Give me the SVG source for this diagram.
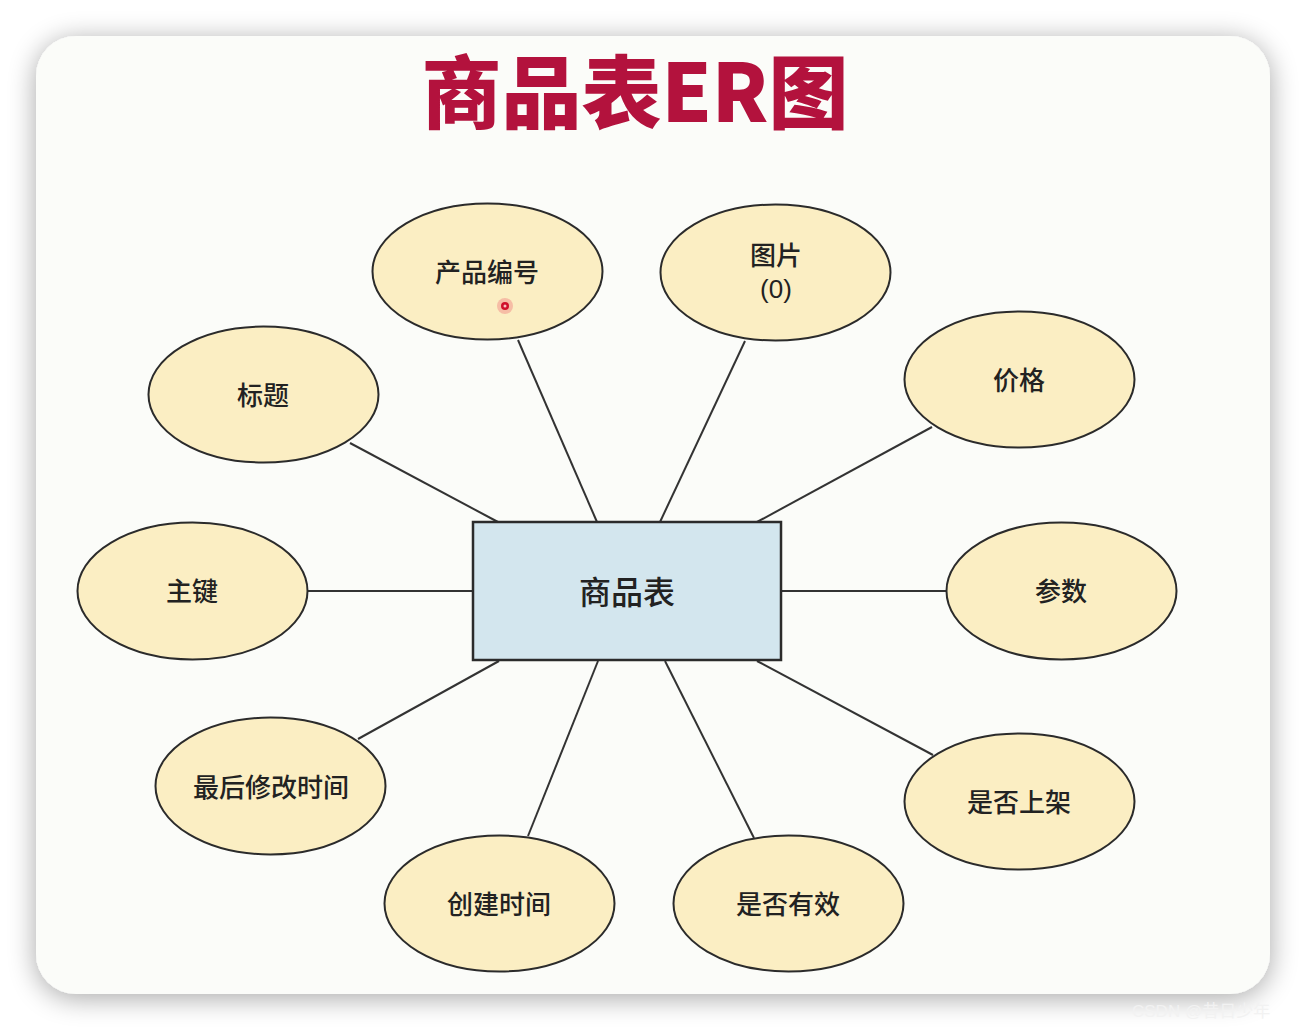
<svg xmlns="http://www.w3.org/2000/svg" width="1306" height="1030" viewBox="0 0 1306 1030">
<defs>
<filter id="sh" x="-10%" y="-10%" width="120%" height="120%">
<feGaussianBlur in="SourceAlpha" stdDeviation="14"/>
<feOffset dx="0" dy="4"/>
<feComponentTransfer><feFuncA type="linear" slope="0.35"/></feComponentTransfer>
<feMerge><feMergeNode/><feMergeNode in="SourceGraphic"/></feMerge>
</filter>
<style>
.attr ellipse{fill:#fbeec3;stroke:#2b2b2b;stroke-width:2}
.lbl{font-family:"Noto Sans CJK SC","Liberation Sans",sans-serif;font-size:26px;fill:#222;text-anchor:middle;dominant-baseline:central;font-weight:500}
#connectors line{stroke:#333;stroke-width:2}
</style>
</defs>
<rect width="1306" height="1030" fill="#ffffff"/>
<rect x="36" y="36" width="1234" height="958" rx="40" fill="#fbfcf9" filter="url(#sh)"/>
<text x="635" y="122" font-family="Noto Sans CJK SC, Liberation Sans, sans-serif" font-size="80" font-weight="900" fill="#b3123d" text-anchor="middle">商品表ER图</text>
<g id="connectors">
<line x1="350" y1="443" x2="498" y2="522"/>
<line x1="518" y1="340" x2="597" y2="522"/>
<line x1="745" y1="341" x2="660" y2="522"/>
<line x1="932" y1="427" x2="757" y2="522"/>
<line x1="308" y1="591" x2="473" y2="591"/>
<line x1="781" y1="591" x2="946" y2="591"/>
<line x1="358" y1="739" x2="499" y2="661"/>
<line x1="528" y1="836" x2="598" y2="661"/>
<line x1="754" y1="838" x2="665" y2="661"/>
<line x1="933" y1="755" x2="757" y2="661"/>
</g>
<g id="entity">
<rect x="473" y="522" width="308" height="138" fill="#d3e6ee" stroke="#2b2b2b" stroke-width="2.5"/>
<text class="lbl" x="627" y="590" style="font-size:32px">商品表</text>
</g>
<g id="n-bianhao" class="attr"><ellipse cx="487.5" cy="271.5" rx="115" ry="68"/><text class="lbl" x="487" y="270">产品编号</text></g>
<g id="n-tupian" class="attr"><ellipse cx="775.5" cy="272.5" rx="115" ry="68"/><text class="lbl" x="776" y="253">图片</text><text class="lbl" x="776" y="289" style="font-family:'Liberation Sans',sans-serif;font-weight:400">(0)</text></g>
<g id="n-biaoti" class="attr"><ellipse cx="263.5" cy="394.5" rx="115" ry="68"/><text class="lbl" x="263" y="393">标题</text></g>
<g id="n-jiage" class="attr"><ellipse cx="1019.5" cy="379.5" rx="115" ry="68"/><text class="lbl" x="1019" y="378">价格</text></g>
<g id="n-zhujian" class="attr"><ellipse cx="192.5" cy="591" rx="115" ry="68.5"/><text class="lbl" x="192" y="589">主键</text></g>
<g id="n-canshu" class="attr"><ellipse cx="1061.5" cy="591" rx="115" ry="68.5"/><text class="lbl" x="1061" y="589">参数</text></g>
<g id="n-xiugai" class="attr"><ellipse cx="270.5" cy="786" rx="115" ry="68.5"/><text class="lbl" x="271" y="785">最后修改时间</text></g>
<g id="n-shangjia" class="attr"><ellipse cx="1019.5" cy="801.5" rx="115" ry="68"/><text class="lbl" x="1019" y="800">是否上架</text></g>
<g id="n-chuangjian" class="attr"><ellipse cx="499.5" cy="903.5" rx="115" ry="68"/><text class="lbl" x="499" y="902">创建时间</text></g>
<g id="n-youxiao" class="attr"><ellipse cx="788.5" cy="903.5" rx="115" ry="68"/><text class="lbl" x="788" y="902">是否有效</text></g>
<circle cx="505" cy="306" r="8" fill="#f08080" opacity="0.45"/>
<circle cx="505" cy="306" r="4" fill="#d0102a"/>
<circle cx="505" cy="306" r="1.5" fill="#f8c0c0"/>
<text x="1132" y="1017" font-family="Liberation Sans, Noto Sans CJK SC, sans-serif" font-size="17" fill="#f2f2f2">CSDN @昔日少年</text>
</svg>
